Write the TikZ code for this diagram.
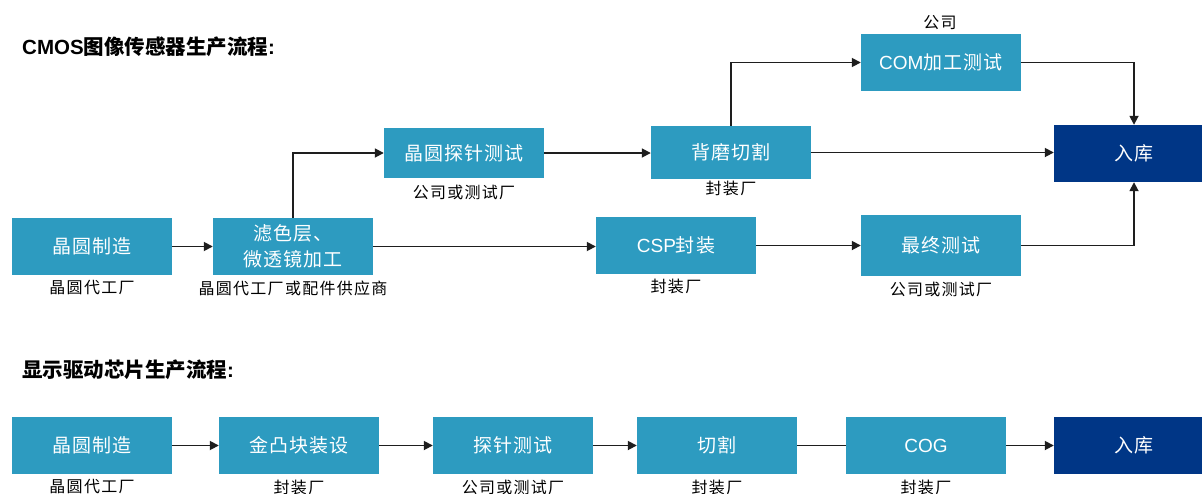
\documentclass[tikz,border=0pt]{standalone}
\usepackage{fontspec}
\setmainfont{Liberation Sans}
\newfontfamily\cjk[LetterSpace=6]{Noto Sans CJK SC}
\newfontfamily\cjkl[LetterSpace=8]{Noto Sans CJK SC}
\newfontfamily\cjkt{Noto Sans CJK SC}
\usetikzlibrary{arrows.meta}
\definecolor{boxc}{RGB}{45,155,192}
\definecolor{darkc}{RGB}{0,54,134}
\definecolor{linec}{RGB}{30,30,30}
\tikzset{
  box/.style={fill=boxc, text=white, minimum width=160pt, minimum height=57pt, inner sep=0pt, align=center, font=\fontsize{19}{26}\selectfont\cjk},
  dbox/.style={box, fill=darkc},
  lab/.style={inner sep=0pt, text=black, font=\fontsize{16}{18}\selectfont\cjkl},
  ttl/.style={inner sep=0pt, anchor=west, font=\fontsize{20.5}{22}\selectfont\bfseries},
  arr/.style={draw=linec, line width=1.7pt, -{Triangle[length=9pt,width=9pt]}},
  ln/.style={draw=linec, line width=1.7pt}
}
\begin{document}
\begin{tikzpicture}[x=1pt,y=-1pt]
\useasboundingbox (0,0) rectangle (1202,493);
% titles
\node[ttl] (t1) at (22,47) {CMOS{\cjkt\bfseries 图像传感器生产流程}:};
\node[ttl] (t2) at (22,370) {{\cjkt\bfseries 显示驱动芯片生产流程}:};
% row 1 boxes
\node[box] (a1) at (92,246.5) {晶圆制造};
\node[box] (a2) at (293,246.5) {滤色层、\\微透镜加工};
\node[box, minimum height=50pt] (a3) at (464,153) {晶圆探针测试};
\node[box, minimum height=53pt] (a4) at (731,152.5) {背磨切割};
\node[box] (com) at (941,62.5) {{\rmfamily COM}加工测试};
\node[dbox] (k1) at (1134,153.5) {入库};
\node[box] (csp) at (676,245.5) {{\rmfamily CSP}封装};
\node[box, minimum height=61pt] (fin) at (941,245.5) {最终测试};
% row 1 labels
\node[lab] (l1) at (92,288) {晶圆代工厂};
\node[lab] (l2) at (293,288) {晶圆代工厂或配件供应商};
\node[lab] (l3) at (464,192) {公司或测试厂};
\node[lab] (l4) at (731,188) {封装厂};
\node[lab] (l5) at (940,23) {公司};
\node[lab] (l6) at (676,286) {封装厂};
\node[lab] (l7) at (941,289) {公司或测试厂};
% row 1 connectors
\draw[arr] (a1.east) -- (a2.west);
\draw[arr] (a2.east) -- (a2.east -| csp.west);
\draw[arr] (a2.north) |- (a3.west);
\draw[arr] (a3.east) -- (a3.east -| a4.west);
\draw[arr] (a4.east) -- (a4.east -| k1.west);
\draw[arr] (a4.north) |- (com.west);
\draw[arr] (com.east) -| (k1.north);
\draw[arr] (csp.east) -- (csp.east -| fin.west);
\draw[arr] (fin.east) -| (k1.south);
% row 2 boxes
\node[box] (b1) at (92,445.5) {晶圆制造};
\node[box] (b2) at (299,445.5) {金凸块装设};
\node[box] (b3) at (513,445.5) {探针测试};
\node[box] (b4) at (717,445.5) {切割};
\node[box] (b5) at (926,445.5) {{\rmfamily COG}};
\node[dbox] (k2) at (1134,445.5) {入库};
% row 2 labels
\node[lab] (m1) at (92,487) {晶圆代工厂};
\node[lab] (m2) at (299,487) {封装厂};
\node[lab] (m3) at (513,487) {公司或测试厂};
\node[lab] (m4) at (717,487) {封装厂};
\node[lab] (m5) at (926,487) {封装厂};
% row 2 connectors
\draw[arr] (b1.east) -- (b2.west);
\draw[arr] (b2.east) -- (b3.west);
\draw[arr] (b3.east) -- (b4.west);
\draw[ln] (b4.east) -- (b5.west);
\draw[arr] (b5.east) -- (k2.west);
\end{tikzpicture}
\end{document}
